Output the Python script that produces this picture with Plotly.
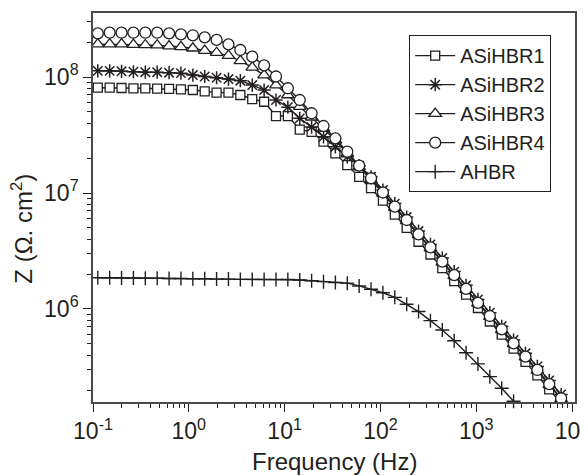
import plotly.graph_objects as go

# ---- data ----
freq = [0.1122, 0.1493, 0.1986, 0.2642, 0.3516, 0.4677, 0.6223, 0.8279,
        1.102, 1.466, 1.950, 2.594, 3.451, 4.592, 6.109, 8.128,
        10.81, 14.39, 19.14, 25.47, 33.88, 45.08, 59.98, 79.80,
        106.2, 141.3, 187.9, 250.0, 332.7, 442.6, 588.8, 783.4,
        1042, 1387, 1845, 2455, 3266, 4345, 5781, 7691]

asihbr1 = [8.09e7, 8.09e7, 8.04e7, 7.99e7, 7.99e7, 7.93e7, 7.89e7, 7.84e7,
           7.73e7, 7.53e7, 7.33e7, 7.33e7, 7.0e7, 6.46e7, 6.12e7, 4.61e7,
           4.61e7, 3.52e7, 3.37e7, 2.77e7, 2.2e7, 1.74e7, 1.38e7, 1.10e7,
           8.6e6, 6.5e6, 5.0e6, 3.8e6, 2.95e6, 2.25e6, 1.74e6, 1.33e6,
           1.02e6, 7.8e5, 6.0e5, 4.55e5, 3.5e5, 2.68e5, 2.03e5, 1.53e5]

asihbr2 = [1.13e8, 1.13e8, 1.12e8, 1.11e8, 1.10e8, 1.10e8, 1.09e8, 1.08e8,
           1.04e8, 1.01e8, 9.86e7, 9.6e7, 9.3e7, 8.53e7, 7.72e7, 6.34e7,
           5.5e7, 4.4e7, 3.7e7, 3.05e7, 2.5e7, 2.05e7, 1.72e7, 1.38e7,
           1.06e7, 8.1e6, 6.2e6, 4.7e6, 3.6e6, 2.75e6, 2.1e6, 1.6e6,
           1.21e6, 9.3e5, 7.1e5, 5.4e5, 4.15e5, 3.2e5, 2.42e5, 1.83e5]

asihbr3 = [1.92e8, 1.92e8, 1.92e8, 1.90e8, 1.89e8, 1.88e8, 1.85e8, 1.82e8,
           1.77e8, 1.69e8, 1.62e8, 1.53e8, 1.38e8, 1.21e8, 1.04e8, 8.53e7,
           7.0e7, 5.55e7, 4.5e7, 3.6e7, 2.85e7, 2.2e7, 1.68e7, 1.3e7,
           9.9e6, 7.5e6, 5.75e6, 4.35e6, 3.35e6, 2.52e6, 1.93e6, 1.47e6,
           1.12e6, 8.6e5, 6.6e5, 5.0e5, 3.84e5, 2.95e5, 2.22e5, 1.68e5]

asihbr4 = [2.38e8, 2.41e8, 2.41e8, 2.41e8, 2.41e8, 2.41e8, 2.38e8, 2.33e8,
           2.29e8, 2.20e8, 2.09e8, 1.91e8, 1.71e8, 1.50e8, 1.26e8, 1.01e8,
           8.0e7, 6.34e7, 4.87e7, 3.78e7, 2.96e7, 2.27e7, 1.72e7, 1.34e7,
           1.01e7, 7.62e6, 5.85e6, 4.40e6, 3.40e6, 2.56e6, 1.96e6, 1.49e6,
           1.13e6, 8.7e5, 6.68e5, 5.06e5, 3.88e5, 2.98e5, 2.25e5, 1.70e5]

ahbr = [1.86e6, 1.86e6, 1.85e6, 1.85e6, 1.84e6, 1.84e6, 1.83e6, 1.83e6,
        1.82e6, 1.82e6, 1.81e6, 1.81e6, 1.80e6, 1.80e6, 1.80e6, 1.80e6,
        1.80e6, 1.78e6, 1.75e6, 1.72e6, 1.69e6, 1.67e6, 1.58e6, 1.48e6,
        1.38e6, 1.26e6, 1.10e6, 9.5e5, 7.93e5, 6.59e5, 5.33e5, 4.20e5,
        3.36e5, 2.61e5, 2.07e5, 1.60e5]

x_ticks = [0.1, 1, 10, 100, 1000, 10000]
x_ticktext = ["10<sup>-1</sup>", "10<sup>0</sup>", "10<sup>1</sup>",
              "10<sup>2</sup>", "10<sup>3</sup>", "10<sup>4</sup>"]
y_ticks = [1e6, 1e7, 1e8]
y_ticktext = ["10<sup>6</sup>", "10<sup>7</sup>", "10<sup>8</sup>"]

INK = "#231f20"
FONT = "Liberation Sans, Arial, sans-serif"

series = [
    ("ASiHBR1", asihbr1, dict(symbol="square", size=9, color="white",
                               line=dict(color=INK, width=1.3))),
    ("ASiHBR2", asihbr2, dict(symbol="asterisk-open", size=11, color=INK,
                               line=dict(color=INK, width=1.5))),
    ("ASiHBR3", asihbr3, dict(symbol="triangle-up", size=11, color="white",
                               line=dict(color=INK, width=1.3))),
    ("ASiHBR4", asihbr4, dict(symbol="circle", size=11, color="white",
                               line=dict(color=INK, width=1.3))),
]

fig = go.Figure()
for name, vals, mk in series:
    fig.add_trace(go.Scatter(x=freq[:len(vals)], y=vals, name=name,
                             mode="lines+markers", cliponaxis=False,
                             line=dict(color=INK, width=1.4), marker=mk))
fig.add_trace(go.Scatter(x=freq[:len(ahbr)], y=ahbr, name="AHBR",
                         mode="lines+markers", cliponaxis=False,
                         line=dict(color=INK, width=1.4),
                         marker=dict(symbol="cross-thin-open", size=10,
                                     color=INK, line=dict(color=INK, width=1.4))))

minor_x = [m * 10 ** d for d in range(-1, 4) for m in range(2, 10)]
minor_y = [m * 10 ** d for d in range(5, 9) for m in range(2, 10)
           if 1.58e5 < m * 10 ** d < 3.56e8]

axis_common = dict(type="log", showgrid=False, zeroline=False, automargin=False,
                   showline=True, linecolor="#4a4a4a", linewidth=1.6,
                   mirror=True, ticks="outside", ticklen=8, tickwidth=1.4,
                   tickcolor=INK, tickmode="array", ticklabeloverflow="allow",
                   tickfont=dict(family=FONT, size=23, color=INK))

# the page body adds an 8 px offset; margins are set so the plot area
# lands where the reference has it in the 588x476 window
fig.update_layout(
    width=588, height=468,
    margin=dict(l=85, r=21, t=5, b=74),
    paper_bgcolor="white", plot_bgcolor="white",
    font=dict(family=FONT, color=INK),
    xaxis=dict(axis_common, range=[-1, 4.031], tickvals=x_ticks,
               ticktext=x_ticktext,
               minor=dict(tickvals=minor_x, ticks="outside", ticklen=4,
                          tickwidth=1.2, tickcolor=INK, showgrid=False)),
    yaxis=dict(axis_common, range=[5.198, 8.552], tickvals=y_ticks,
               ticktext=y_ticktext,
               minor=dict(tickvals=minor_y, ticks="outside", ticklen=4,
                          tickwidth=1.2, tickcolor=INK, showgrid=False)),
    showlegend=True,
    legend=dict(x=0.656, y=0.943, xanchor="left", yanchor="top",
                bgcolor="white", bordercolor=INK, borderwidth=1,
                font=dict(family=FONT, size=20, color=INK),
                itemwidth=40, tracegroupgap=0),
    annotations=[
        dict(text="Frequency (Hz)", xref="paper", yref="paper",
             x=0.5, y=-0.152, xanchor="center", yanchor="middle",
             showarrow=False, font=dict(family=FONT, size=24, color=INK)),
        dict(text="Z (Ω. cm<sup>2</sup>)", xref="paper", yref="paper",
             x=-0.148, y=(402 - 229) / 389, xanchor="center", yanchor="middle",
             textangle=-90, showarrow=False,
             font=dict(family=FONT, size=24, color=INK)),
    ],
)

fig.write_html("out.html")
